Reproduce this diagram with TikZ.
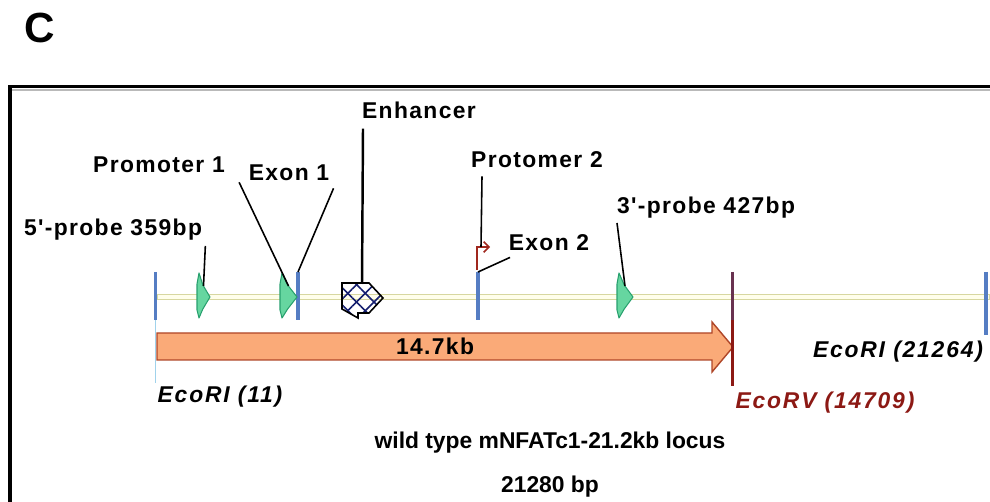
\documentclass[tikz,border=0pt]{standalone}
\usepackage{fontspec}
\setmainfont{Liberation Sans}[Ligatures=TeXOff]
\usetikzlibrary{patterns.meta, arrows.meta, positioning}
\definecolor{probeGreen}{RGB}{102, 214, 160}
\definecolor{probeEdge}{RGB}{40, 160, 110}
\definecolor{siteBlue}{RGB}{85, 125, 195}
\definecolor{siteLight}{RGB}{160, 210, 235}
\definecolor{rvPurple}{RGB}{105, 50, 80}
\definecolor{rvRed}{RGB}{140, 25, 20}
\definecolor{fragOrange}{RGB}{250, 170, 120}
\definecolor{fragEdge}{RGB}{175, 70, 40}
\definecolor{lineYellow}{RGB}{215, 215, 160}
\definecolor{enhBlue}{RGB}{20, 30, 110}
\definecolor{promRed}{RGB}{160, 40, 30}

% green feature arrow: name, left x, width
\newcommand{\featarrow}[3]{%
  \draw[probe] (#2,284) -- (#2+2,273) -- (#2+0.45*#3,285) -- (#2+#3,297)
    -- (#2+0.45*#3,309) -- (#2+2,318) -- (#2,310) -- cycle;
  \coordinate (#1) at (#2+0.5*#3,286);}

\begin{document}
\begin{tikzpicture}[x=0.02cm, y=-0.02cm,
    lbl/.style   = {font=\fontsize{13}{15}\selectfont\bfseries\addfontfeature{LetterSpace=6}, inner sep=0pt},
    caption/.style = {font=\fontsize{13}{15}\selectfont\bfseries, inner sep=0pt},
    site/.style  = {font=\fontsize{13}{15}\selectfont\bfseries\itshape\addfontfeature{LetterSpace=8}, inner sep=0pt},
    probe/.style = {draw=probeEdge, fill=probeGreen, line width=0.6pt, line join=round},
    cut/.style   = {line width=2pt},
    leader/.style= {line width=0.9pt}
    ]
    \useasboundingbox (0,0) rectangle (990,502);
    \node[font=\fontsize{24}{26}\selectfont\bfseries] (panel) at (40,28) {C};

    % frame
    \draw[gray!55, line width=1pt] (12,90) -- (990,90);
    \draw[line width=2pt] (10,502) -- (10,86.5) -- (990,86.5);

    % backbone
    \draw[lineYellow, fill=yellow!8, line width=0.7pt] (157,294.5) rectangle (990,299.5);

    % 14.7kb fragment
    \draw[fragEdge, fill=fragOrange, line width=0.8pt]
      (157,333) -- (712,333) -- (712,322) -- (733,347) -- (712,372) -- (712,360) -- (157,360) -- cycle;
    \node[lbl] (frag) at (435,346) {14.7kb};

    % restriction sites and exons
    \draw[siteLight, line width=1pt] (155.5,318) -- (155.5,383);
    \draw[siteBlue, cut] (155.5,272) -- (155.5,320);
    \draw[siteBlue, cut] (298,272) -- (298,320);
    \draw[siteBlue, cut] (478,272) -- (478,320);
    \draw[rvRed, line width=1.4pt] (732.5,318) -- (732.5,386);
    \draw[rvPurple, cut] (732.5,272) -- (732.5,320);
    \draw[siteBlue, cut] (986,272) -- (986,335);
    \coordinate (ex1) at (298,272);
    \coordinate (ex2) at (478,272);

    % probes and promoter 1
    \featarrow{probe5}{197}{13}
    \featarrow{prom1}{280}{17}
    \featarrow{probe3}{617}{16}

    % enhancer
    \fill[pattern={Lines[angle=45, distance=7pt, line width=0.9pt]}, pattern color=enhBlue]
      (342,283) -- (369,283) -- (383,298) -- (369,313) -- (358,313) -- (358,318) -- (342,309) -- cycle;
    \fill[pattern={Lines[angle=-45, distance=7pt, line width=0.9pt]}, pattern color=enhBlue]
      (342,283) -- (369,283) -- (383,298) -- (369,313) -- (358,313) -- (358,318) -- (342,309) -- cycle;
    \draw[line width=0.9pt, line join=miter]
      (342,283) -- (369,283) -- (383,298) -- (369,313) -- (358,313) -- (358,318) -- (342,309) -- cycle;
    \coordinate (enh) at (362,284);

    % promoter 2
    \draw[promRed, line width=0.9pt, -{Straight Barb[length=3pt]}] (477,270) -- (477,247) -- (490,247);
    \coordinate (prom2) at (481,247);

    % labels
    \node[lbl] (enhlbl) at (419,110) {Enhancer};
    \node[lbl] (prom1lbl) at (159,165) {Promoter 1};
    \node[lbl] (ex1lbl) at (289,173) {Exon 1};
    \node[lbl] (prom2lbl) at (537,160) {Protomer 2};
    \node[lbl] (probe5lbl) at (113,230) {5'-probe 359bp};
    \node[lbl] (ex2lbl) at (549,243) {Exon 2};
    \node[lbl] (probe3lbl) at (706,208) {3'-probe 427bp};

    % leaders
    \draw[leader, line width=1.4pt] ([shift={(-56,10)}]enhlbl.south) -- (enh);
    \draw[leader] ([shift={(14,9)}]prom1lbl.south east) -- (prom1);
    \draw[leader] ([shift={(4,7)}]ex1lbl.south east) -- (ex1);
    \draw[leader] ([shift={(-55,8)}]prom2lbl.south) -- (prom2);
    \draw[leader] ([shift={(-39,6)}]ex2lbl.south) -- (ex2);
    \draw[leader] ([shift={(3,5)}]probe5lbl.south east) -- (probe5);
    \draw[leader] ([shift={(-89,4)}]probe3lbl.south) -- (probe3);

    % site names
    \node[site] (eco1) at (220,397) {EcoRI (11)};
    \node[site] (eco2) at (898,352) {EcoRI (21264)};
    \node[site, text=rvRed] (ecorv) at (825,403) {EcoRV (14709)};

    % locus caption
    \node[caption] (locus) at (550,443) {wild type mNFATc1-21.2kb locus};
    \node[caption] (size) at (550,487) {21280 bp};
\end{tikzpicture}
\end{document}
